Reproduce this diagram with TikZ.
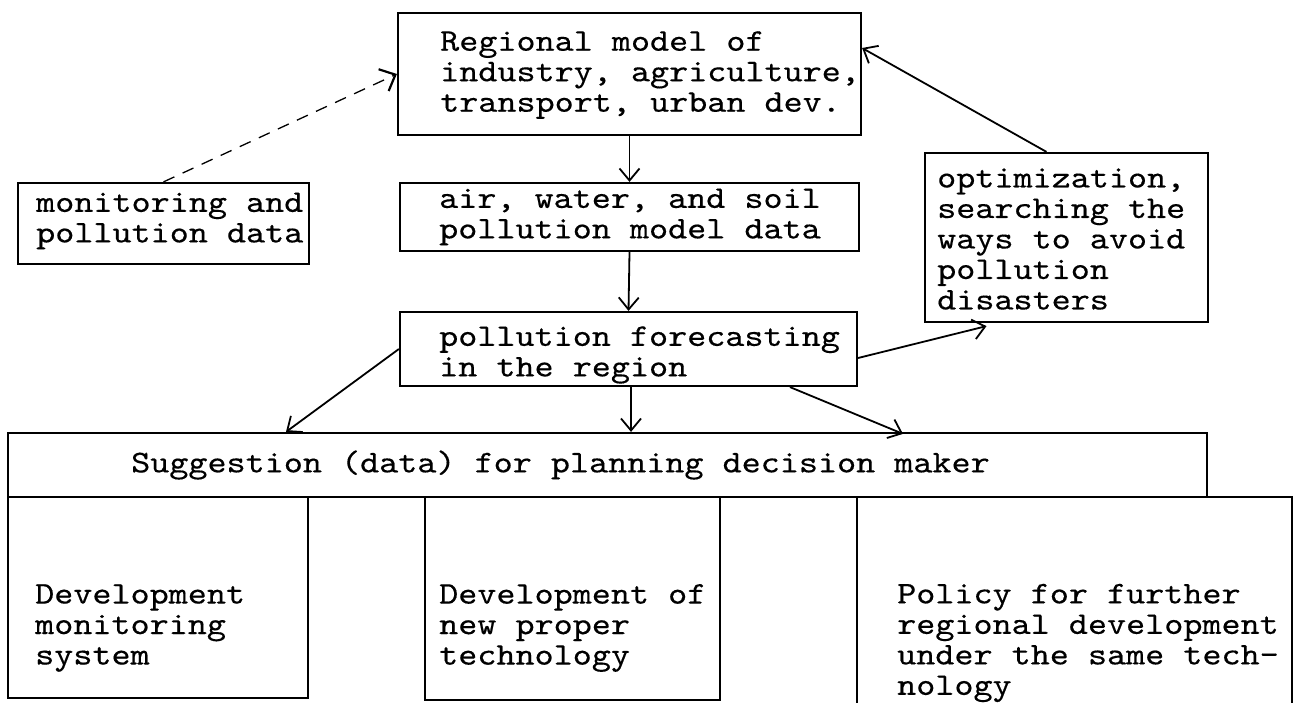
\documentclass[tikz,border=0pt]{standalone}
\usepackage{fontspec}
\setmonofont{lmmono10-regular.otf}[FakeStretch=1.15,FakeBold=0.35]
\usetikzlibrary{arrows.meta}
\begin{document}
\begin{tikzpicture}[x=1pt,y=-1pt,
  box/.style={draw, line width=2.2pt, inner sep=0pt},
  txt/.style={anchor=west, align=left, inner sep=0pt,
    font=\ttfamily\fontsize{31.6pt}{30.5pt}\selectfont},
  arr/.style={line width=1.8pt, -{Straight Barb[length=12pt,width=20pt,line width=1.8pt]}},
  darr/.style={line width=1.3pt, dash pattern=on 12pt off 9pt,
    -{Straight Barb[length=13pt,width=24pt,line width=2.2pt,sep=0pt]}}]
\useasboundingbox (0,0) rectangle (1298,703);
\fill[white] (0,0) rectangle (1298,703);
% boxes
\node[box, minimum width=463pt, minimum height=122pt] (reg) at (629.5,74) {};
\node[txt] (regT) at (440,75) {Regional model of\\industry, agriculture,\\transport, urban dev.};
\node[box, minimum width=291pt, minimum height=81pt] (mon) at (163.5,223.5) {};
\node[txt] (monT) at (36,221) {monitoring and\\pollution data};
\node[box, minimum width=459pt, minimum height=68pt] (air) at (629.5,217) {};
\node[txt] (airT) at (439,217) {air, water, and soil\\pollution model data};
\node[box, minimum width=457pt, minimum height=74pt] (fore) at (628.5,349) {};
\node[txt] (foreT) at (439,355) {pollution forecasting\\in the region};
\node[box, minimum width=283pt, minimum height=169pt] (opt) at (1066.5,237.5) {};
\node[txt] (optT) at (937,239) {optimization,\\searching the\\ways to avoid\\pollution\\disasters};
\node[box, minimum width=1199pt, minimum height=64pt] (sug) at (607.5,465) {};
\node[txt] (sugT) at (131,465) {Suggestion (data) for planning decision maker};
\node[box, minimum width=300pt, minimum height=201pt] (b1) at (158,597.5) {};
\node[txt] (b1T) at (35,628) {Development\\monitoring\\system};
\node[box, minimum width=295pt, minimum height=203pt] (b2) at (572.5,598.5) {};
\node[txt] (b2T) at (439,628) {Development of\\new proper\\technology};
\node[inner sep=0pt, minimum width=435pt, minimum height=206pt] (b3) at (1074.5,600) {};
\draw[line width=2.2pt] (b3.south west) |- (b3.north east) -- (b3.south east);
\node[txt] (b3T) at (897,643) {Policy for further\\regional development\\under the same tech-\\nology};
% connectors
\draw[arr] (reg.south) -- (air.north);
\draw[arr] (air.south) -- (fore.north);
\draw[darr] (mon.north) -- (reg.west);
\draw[arr] ([xshift=-20pt]opt.north) -- ([yshift=26pt]reg.east);
\draw[arr] ([yshift=-9pt]fore.east) -- ([xshift=-80pt,yshift=-3pt]opt.south);
\draw[arr] (fore.west) -- ([xshift=-321.5pt]sug.north);
\draw[arr] ([xshift=2.5pt]fore.south) -- ([xshift=23.5pt]sug.north);
\draw[arr] ([xshift=161.5pt]fore.south) -- ([xshift=295.5pt,yshift=-2pt]sug.north);
\end{tikzpicture}
\end{document}
